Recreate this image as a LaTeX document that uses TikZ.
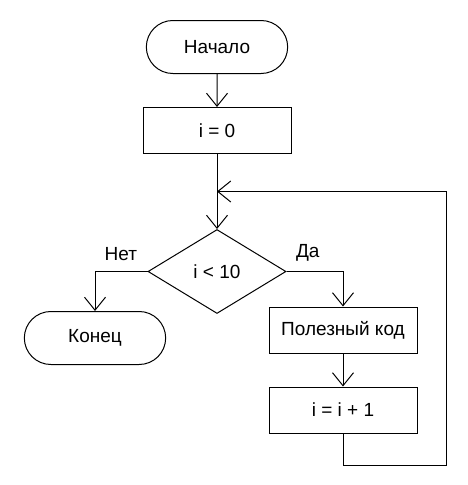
\documentclass[tikz,border=0pt]{standalone}
\usepackage{fontspec}
\setmainfont{Liberation Sans}
\usetikzlibrary{arrows.meta,positioning,calc,shapes.geometric,shapes.misc}

\begin{document}
\begin{tikzpicture}[
            x=1pt, y=1pt,
            line width=1pt,
            font=\fontsize{19}{23}\selectfont,
            term/.style={rounded rectangle,draw,minimum width=148pt,minimum height=53pt},
            proc/.style={rectangle,draw,minimum width=148pt,minimum height=46pt},
            cond/.style={diamond,draw,aspect=1.64,inner sep=0pt,minimum width=138pt,minimum height=84pt},
            branch/.style={inner sep=0pt},
            arr/.style={draw,-{Straight Barb[length=13pt,width=21pt]}}
            ]
            \useasboundingbox (0,0) rectangle (467,-485);
            \node[term] (start) at (217,-47) {Начало};
            \node[proc,below=33pt of start] (init) {i = 0};
            \node[cond,below=75pt of init] (check) {i < 10};
            \node[term] (stop) at (95,-338) {Конец};
            \node[proc] (work) at (343,-330) {Полезный код};
            \node[proc,below=33pt of work] (incr) {i = i + 1};
            \node[branch,above left=10pt and 10pt of check.west] (no) {Нет};
            \node[branch,above right=10pt and 9pt of check.east] (yes) {Да};
            \coordinate (join) at ($(init.south)!0.5!(check.north)$);
            \coordinate (back) at (446,-465);
            \draw[arr] (start) -- (init);
            \draw[arr] (init) -- (check);
            \draw[arr] (check.west) -| (stop);
            \draw[arr] (check.east) -| (work);
            \draw[arr] (work) -- (incr);
            \draw[arr] (incr.south) |- (back) |- (join);
        \end{tikzpicture}
\end{document}
